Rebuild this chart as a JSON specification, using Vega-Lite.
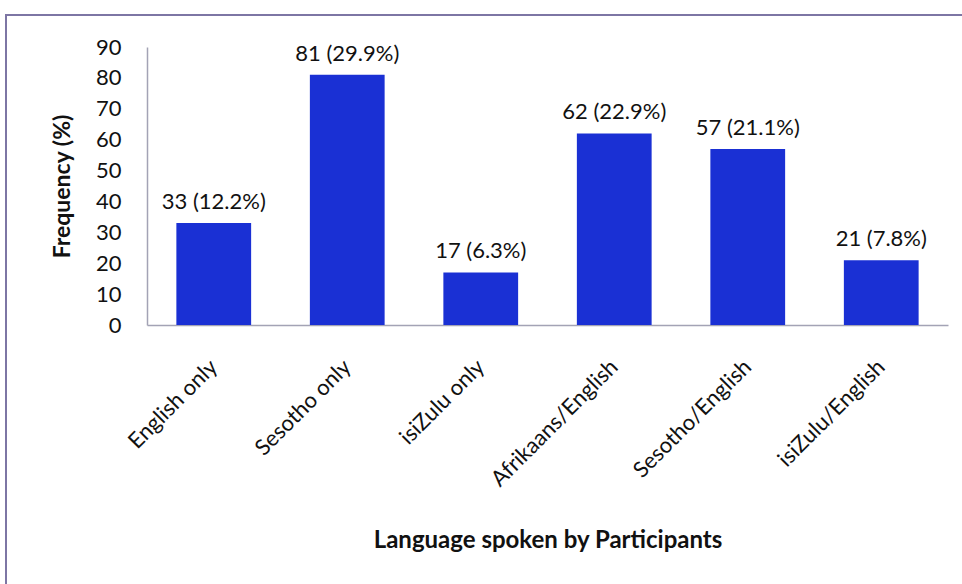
{
  "$schema": "https://vega.github.io/schema/vega-lite/v6.json",
  "autosize": "none",
  "padding": {"left": 6, "top": 15, "right": -4, "bottom": -4},
  "width": 960,
  "height": 573,
  "background": "white",
  "config": {
    "font": "Lato",
    "view": {"stroke": "#7d76a4", "strokeWidth": 2},
    "axis": {"labelFont": "Lato", "titleFont": "Lato", "labelColor": "#111111", "titleColor": "#111111", "grid": false, "ticks": false, "domainColor": "#a3a3b5", "domainWidth": 1.5}
  },
  "data": {
    "values": [
      {"language": "English only", "count": 33, "label": "33 (12.2%)"},
      {"language": "Sesotho only", "count": 81, "label": "81 (29.9%)"},
      {"language": "isiZulu only", "count": 17, "label": "17 (6.3%)"},
      {"language": "Afrikaans/English", "count": 62, "label": "62 (22.9%)"},
      {"language": "Sesotho/English", "count": 57, "label": "57 (21.1%)"},
      {"language": "isiZulu/English", "count": 21, "label": "21 (7.8%)"}
    ]
  },
  "encoding": {
    "x": {
      "field": "language", "type": "nominal", "sort": null,
      "scale": {"range": [141, 942], "paddingInner": 0.44, "paddingOuter": 0.22},
      "axis": {
        "title": "Language spoken by Participants", "offset": -263,
        "labelAngle": -45, "labelFontSize": 22, "labelPadding": 38,
        "labelAlign": "right", "labelBaseline": "middle",
        "titleFontSize": 24, "titleFontWeight": "bold", "titleY": 215, "titleBaseline": "middle"
      }
    },
    "y": {
      "field": "count", "type": "quantitative",
      "scale": {"domain": [0, 90], "range": [310, 32], "nice": false},
      "axis": {
        "title": "Frequency (%)", "offset": -141, "values": [0,10,20,30,40,50,60,70,80,90],
        "labelFontSize": 22, "labelPadding": 26,
        "titleFontSize": 23, "titleFontWeight": "bold", "titleX": -85, "titleBaseline": "middle"
      }
    }
  },
  "layer": [
    {"mark": {"type": "bar", "color": "#1a30d4"}},
    {"mark": {"type": "text", "baseline": "alphabetic", "dy": -14, "fontSize": 22, "color": "#111111", "font": "Lato"},
     "encoding": {"text": {"field": "label"}}}
  ]
}
